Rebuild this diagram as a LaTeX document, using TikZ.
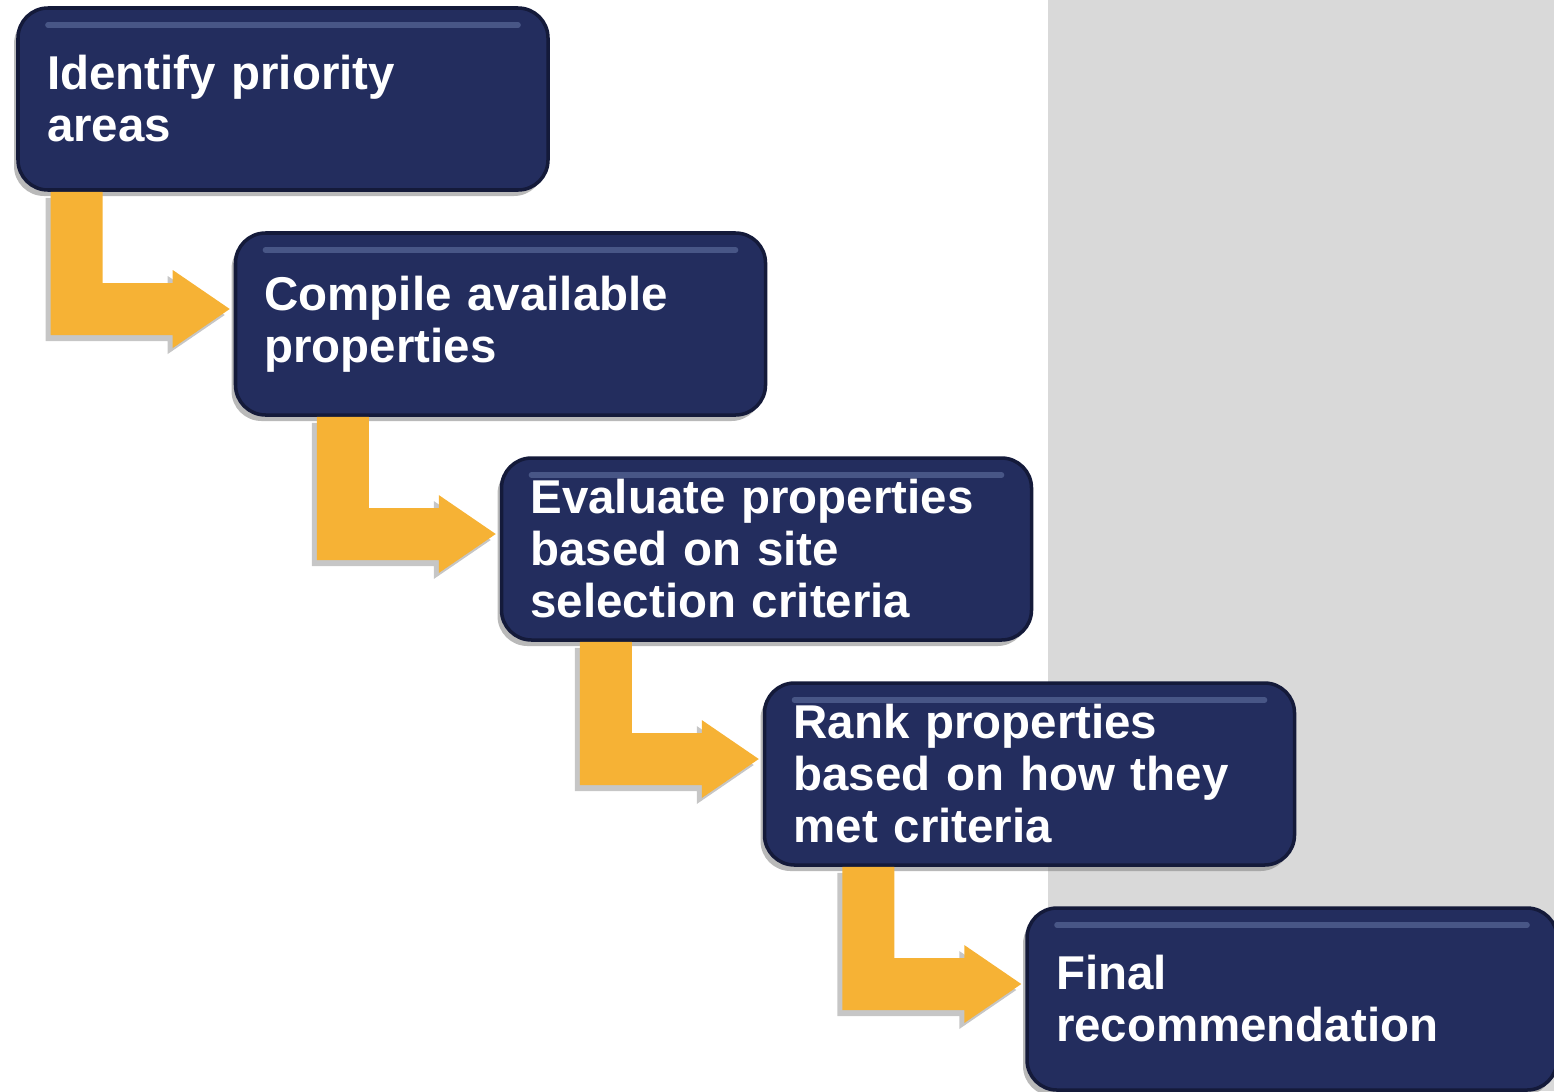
\documentclass[tikz,border=0pt]{standalone}
\usepackage{fontspec}
\setmainfont{Liberation Sans}
\usepackage{xcolor}
\usetikzlibrary{calc,shadows}

\definecolor{boxnavy}{RGB}{35,45,94}
\definecolor{boxedge}{RGB}{20,26,58}
\definecolor{boxshine}{RGB}{72,86,134}
\definecolor{arrowgold}{RGB}{246,178,53}
\definecolor{panelgray}{RGB}{217,217,217}

\tikzset{
  stepbox/.style={rounded corners=0.3cm, fill=boxnavy, draw=boxedge, line width=1pt,
    text=white, font=\bfseries\fontsize{13.5}{14.8}\selectfont,
    text width=4.72cm, align=left, inner xsep=0.29cm, minimum height=1.82cm,
    drop shadow={shadow xshift=-0.04cm, shadow yshift=-0.06cm, opacity=0.55},
    path picture={\draw[boxshine, line width=1.6pt, line cap=round]
      ([xshift=0.3cm,yshift=-0.17cm]path picture bounding box.north west) --
      ([xshift=-0.3cm,yshift=-0.17cm]path picture bounding box.north east);}},
  bendfill/.style={fill=arrowgold,
    drop shadow={shadow xshift=-0.05cm, shadow yshift=-0.06cm, opacity=0.45}}
}

% bent arrow from the bottom of #1 to the left side of #2
\newcommand{\bendto}[2]{
  \coordinate (tip) at ($(#2.west)+(-0.04,0.15)$);
  \fill[bendfill] ($(tip |- #1.south)+(-1.79,0)$) -- ($(tip |- #1.south)+(-1.27,0)$)
    -- ($(tip)+(-1.27,0.26)$) -- ($(tip)+(-0.57,0.26)$) -- ($(tip)+(-0.57,0.39)$)
    -- (tip) -- ($(tip)+(-0.57,-0.39)$) -- ($(tip)+(-0.57,-0.26)$)
    -- ($(tip)+(-1.79,-0.26)$) -- cycle;
}

\begin{document}
\begin{tikzpicture}
    \useasboundingbox (0,0) rectangle (15.54,-10.91);
    \fill[panelgray] (10.48,0) rectangle (15.54,-10.91);

    \node[stepbox] (identify) at (2.83,-0.99) {Identify priority\\areas};
    \node[stepbox] (compile) at (5.005,-3.24) {Compile available\\properties};
    \node[stepbox] (evaluate) at (7.665,-5.49) {Evaluate properties\\based on site\\selection criteria};
    \node[stepbox] (rank) at (10.295,-7.74) {Rank properties\\based on how they\\met criteria};
    \node[stepbox] (final) at (12.92,-9.99) {Final\\recommendation};

    \bendto{identify}{compile}
    \bendto{compile}{evaluate}
    \bendto{evaluate}{rank}
    \bendto{rank}{final}
\end{tikzpicture}
\end{document}
